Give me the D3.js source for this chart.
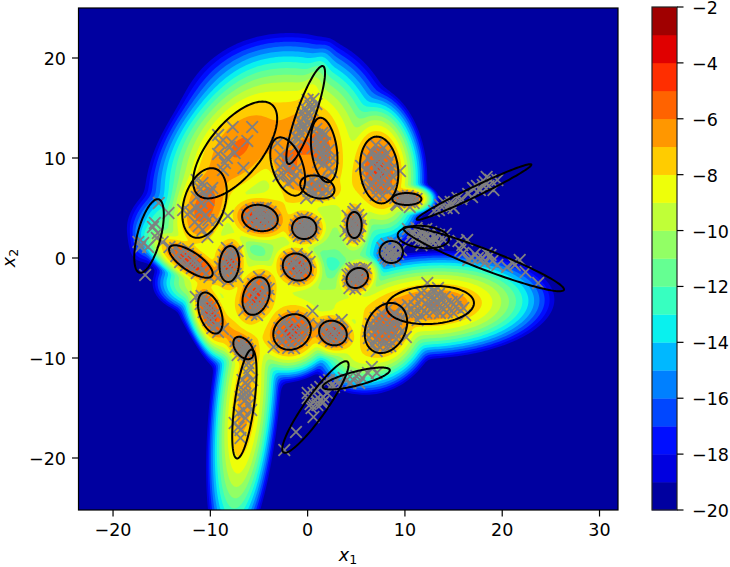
<!DOCTYPE html>
<html><head><meta charset="utf-8">
<script src="https://cdn.jsdelivr.net/npm/d3@7"></script>
<style>html,body{margin:0;padding:0;background:#fff}text{font-family:"DejaVu Sans";fill:#000}</style>
</head><body><svg id="c" width="730" height="567"></svg>
<script>
// Axis domains and ticks
const xDomain=[-23.55,31.9], yDomain=[-25.2,25];
const xTicks=[-20,-10,0,10,20,30], yTicks=[-20,-10,0,10,20];
const levels=d3.range(-20,-1,1), cbarTicks=[-2,-4,-6,-8,-10,-12,-14,-16,-18,-20];
// Density field, read as gaussian bumps: centre, spread, tilt, peak log value
const fieldX=[-7,-10.6,-0.2,-0.2,-2.05,1.7,1,-4.9,-0.35,7.35,10.2,4.8,5.1,12.6,8.05,-6.5,-6.6,-1.6,2.6,-5.3,-10,-8.05,-12,-1.1,-15.5,-8,-2.5,-3,-6.3,-3,-2.5,-7.5,-11,-7,-9.5,-2.5,1.5,2,2.5,1,5,4.5,4.5,-5,5.5,-13.5,15];
const fieldY=[11,5.2,11,15,9.15,10.8,7.1,4,3,8.8,5.9,3.3,-2,-4.7,-7,-14.6,-9,-7.4,-7.5,-3.8,-5.5,-0.6,-0.35,-0.9,3.5,-7.5,13,1.5,-1,-2.5,-5,-4.5,-2.5,3,0.5,5.5,3.5,1.5,-3.3,-4.5,-5,7,0.8,-8,-9.5,3,-4.6];
const fieldA=[2.4,1.7,1.8,1.5,1.4,1.5,0.95,1.02,0.7,1.55,0.6,0.7,0.62,2.5,1.3,3.2,0.7,1.05,0.82,1.05,1.1,0.95,1.3,0.8,1.2,1.5,2.3,1,0.8,1.6,1.6,1,1.1,1.1,0.9,1.9,1.4,1.1,1.6,2.1,1.6,1.1,0.8,1.3,1.1,1.3,2];
const fieldB=[1.45,0.95,2.15,0.5,0.7,0.6,0.6,0.7,0.6,0.92,0.33,0.42,0.52,1.05,1,0.72,0.46,0.9,0.65,0.7,0.5,0.55,0.5,0.68,0.6,0.65,2,1,0.8,1.1,0.9,1.4,0.7,1.1,1.1,1,1.6,0.7,1.1,0.9,0.8,2.1,0.9,1,0.9,1.1,1];
const fieldT=[50,72,0,70,110,98,-15,-10,0,96,0,90,30,3,60,84,-50,30,-20,70,110,85,-33,-30,60,-45,0,0,0,0,0,0,0,0,0,0,0,0,0,0,0,0,0,0,0,0,3];
const fieldP=[-5.9,-5.5,-6,-8,-6.2,-5.9,-5.8,-4.4,-4.4,-4.8,-3.8,-4.4,-4.4,-6,-5.2,-6.6,-4.8,-4.6,-4.6,-4.6,-4.5,-4.6,-4.4,-4.4,-13,-6.8,-8,-10,-9.5,-8.9,-8.6,-8.6,-8.9,-9.5,-8.6,-8.3,-10,-11.5,-10.5,-9.9,-8.5,-8.2,-10.5,-8.6,-8.5,-11.5,-8.4];
// Ellipses: centre, semi axes, tilt
const ellX=[-7.45,-10.6,-0.2,-2.05,1.7,1,-4.9,-0.35,7.35,10.2,17.1,4.8,11.9,18.1,8.6,5.1,12.6,8.05,5,0.8,-6.5,-6.6,-1.6,2.6,-5.3,-10,-8.05,-12,-1.1,-16.3];
const ellY=[10.8,5.5,14.3,9.15,10.8,7.1,4,3,8.8,5.9,6.6,3.3,2.1,-0.1,0.6,-2,-4.7,-7,-12.05,-14.9,-14.6,-9,-7.4,-7.5,-3.8,-5.5,-0.6,-0.35,-0.9,2.2];
const ellA=[5.9,3.6,5.2,3.05,3.25,1.8,1.85,1.25,3.35,1.5,6.5,1.3,2.65,8.8,1.2,1.15,4.5,2.65,3.55,5.6,5.5,1.3,2,1.45,1.95,2.15,1.8,2.6,1.5,3.8];
const ellB=[2.7,2.1,0.95,1.55,1.3,1.1,1.3,1.1,1.95,0.6,0.5,0.75,1.1,1,1.1,0.95,1.9,2,0.7,1.1,1,0.8,1.7,1.2,1.3,1.1,1,0.95,1.3,1.2];
const ellT=[50,72,70,110,98,-15,-10,0,96,0,25,90,-5,-20.5,0,30,3,60,14,54,82,-50,30,-20,70,110,85,-33,-30,75];
// Crosses, by cluster
const pts1=[[-9.2,12.3],[-7.7,13.1],[-5.7,13.1],[-6.2,11.7],[-8,11.1],[-9.2,10.4],[-8.3,10],[-8.7,8.8],[-6.6,9],[-7.8,11.6],[-7.5,10.5],[-9,11.5],[-8.5,9.5]];
const pts2=[[-10.8,7.5],[-11.4,6.1],[-12.1,4.6],[-11,4.8],[-10.2,3.8],[-10.8,2.8],[-10.3,2.1],[-8.2,4.2],[-10.7,6.5],[-11.6,3.6],[-9.8,7],[-11.4,7.8],[-12.8,4.8],[-9.3,3.8],[-10.9,5.5],[-11.5,5],[-10.5,4.3],[-11.2,3.2],[-10.2,5.8],[-10,6.6],[-11,6.9]];
const pts3=[[0.6,15.9],[0,15.8],[0.9,15.4],[0.3,15.2],[-0.3,15],[0.5,14.8],[0,14.5],[-0.5,14.5],[0.3,14.2],[-0.3,14],[-0.7,13.7],[0,13.5],[-0.5,13.2],[-1,13],[-0.3,12.8],[-0.8,12.5],[-1.3,12.2],[-0.9,11.9],[-1.6,11.5],[-1.2,11.1]];
const pts4=[[-2.8,9.1],[-2,8.8],[-1.1,9],[-2.5,8.3],[-1.5,7.8],[-2.1,9.8],[-3.1,11.5],[-2.4,9.4],[-1.7,9.6],[-3,8.2],[-1.2,8.3],[-2.8,10.3],[-2,7.5]];
const pts5=[[1,12.3],[1.4,11.9],[0.8,11.6],[1.3,11.3],[1.8,11.5],[1.1,10.9],[1.6,10.7],[2.2,10.8],[1.3,10.3],[1.9,10],[2.6,10],[1.6,9.4],[2.2,9],[2.5,8.6],[1.1,9.6],[0.9,12.9],[1.5,12.5],[0.5,11],[1.8,12.4]];
const pts6=[[0,7.5],[0.4,6.9],[0.8,7.4],[1.1,6.8],[1.5,7.2],[1.9,6.9],[0.6,6.4],[1.2,7.9],[1.6,6.4],[2.2,6.5],[0.1,6.7],[1,6.1],[-0.15,6],[0.5,7.8],[1.5,7.8]];
const pts7=[[-6.2,4.3],[-5.8,4.8],[-5.7,3.9],[-5.4,4.4],[-5.3,3.4],[-5.1,5],[-5,4],[-4.9,3.2],[-4.8,4.6],[-4.5,3.7],[-4.4,4.3],[-4.3,5],[-4.1,3.3],[-4,4],[-3.8,4.6],[-3.7,3.5],[-5.6,3.2],[-5.2,4.7],[-4.7,3.9],[-6,3.6],[-3.4,3.8],[-5.1,3.6],[-4.6,4.95],[-4.2,3.6]];
const pts8=[[-1.2,3.3],[-1,2.6],[-0.8,3.7],[-0.7,3],[-0.5,2.3],[-0.4,3.4],[-0.3,2.8],[-0.1,3.9],[0,2.4],[0.1,3.2],[0.3,2.7],[0.4,3.6],[0.6,3],[-0.9,2.2],[-1.3,2.8],[-0.5,4],[0.5,2.3],[-0.2,2],[0.8,3.4],[-0.2,3.1],[-0.6,2.7],[0.2,2.9]];
const pts9=[[7,11.3],[7.8,11],[6.6,10.6],[7.3,10.5],[8.1,10.4],[6.2,10],[7,9.9],[7.6,9.8],[8.4,9.7],[6.6,9.4],[7.2,9.2],[7.9,9.1],[8.7,9],[6,8.9],[6.6,8.6],[7.3,8.5],[8,8.4],[8.7,8.2],[9.5,8.7],[6.1,8],[6.9,7.9],[7.6,7.8],[8.3,7.6],[5.5,9.2],[6.5,7.3],[7.2,7],[8,6.9],[8.7,7],[7,6.3],[7.7,6.2],[7.4,10],[7,9],[7.7,8.9],[7.2,8],[6.3,7],[8.2,9.3]];
const pts10=[[9,6],[9.4,5.6],[9.7,6.2],[10,5.8],[10.3,6.2],[10.5,5.6],[10.8,6],[11.2,5.9],[9.2,5.3],[10.5,5.1],[9.6,5.9],[10.9,5.5],[9.1,5.4],[10.4,5.9]];
const pts11=[[13.6,5.3],[14.3,5],[15.4,6],[15,5],[17,7],[17.7,6.8],[18.8,7.8],[19.5,7.8],[18.4,8.1],[19.1,6.8],[13,4.7],[14,5.6],[14.7,5.6],[15.8,5.9],[16.5,6.4],[17.4,7.2],[18,7.3],[18.6,7.2],[16.9,6.1],[14.8,5.2],[18.2,7.6],[13.5,4.8]];
const pts12=[[4.1,4.2],[4.7,4.6],[5.2,4.3],[4.4,3.8],[5,3.8],[4.2,3.2],[4.8,3.3],[5.4,3.2],[4.5,2.8],[5.1,2.7],[4.2,2.3],[4.8,2.2],[5.3,2.2],[4.6,1.9],[4.9,4.9],[3.9,2.7],[5.5,3.9],[4.5,3.5],[5,3]];
const pts13=[[10.3,2.9],[10.8,2.6],[11.2,3],[11.5,2.4],[11.9,2.8],[12.3,2.2],[12.7,2.6],[13.1,2],[13.5,2.3],[10.9,2],[11.4,1.7],[11.9,1.9],[12.4,1.5],[12.9,1.5],[13.4,1.5],[14,1.8],[12,2.3],[11.3,2.2],[12.6,1.9],[11.7,1.3],[10.6,2.2],[12.2,2.9],[14.2,2.4]];
const pts14=[[15.9,1.3],[16,0.5],[16.9,0],[15.7,0.8],[18,0],[18.8,0.3],[19.5,-0.7],[21.1,-0.5],[22.4,-1.4],[23.7,-2.5],[18.4,0.5],[17.5,0],[20.5,-0.9],[16.4,1.8],[21.3,-0.7],[18.2,-0.5],[17.2,0.4],[19,-0.3],[16.5,-0.2],[21.8,-0.2],[15.5,1.7]];
const pts15=[[7.7,1],[7.8,0.3],[8.1,1.4],[8.2,0.6],[8.3,-0.1],[8.5,1],[8.6,0.3],[8.8,1.5],[8.9,0.7],[9,-0.1],[9.2,1.1],[9.3,0.4],[9.6,0.8],[8.4,-0.3],[8,0],[9.1,1.5],[8.6,0.6],[7.9,0.7],[8.7,0]];
const pts16=[[4.2,-2.3],[4.4,-1.6],[4.6,-2.7],[4.7,-2],[4.9,-1.3],[5,-2.4],[5.2,-1.8],[5.4,-2.7],[5.5,-1.2],[5.6,-2.1],[5.9,-1.6],[4.3,-3],[4.9,-3.1],[6,-1],[4.8,-1],[5.3,-1.1],[5.1,-2],[4.5,-1.1],[4.1,-1.7]];
const pts17=[[12.3,-2.5],[11.7,-3.5],[12.3,-3.6],[12.9,-3.3],[13.5,-3.6],[11,-4],[11.7,-4.2],[12.4,-4.2],[13,-4],[13.6,-4.1],[14.1,-3.9],[10.3,-4.7],[11,-4.8],[11.7,-5],[12.4,-4.8],[13,-4.7],[13.6,-4.8],[14.2,-4.6],[9.5,-4.9],[10.2,-5.4],[10.9,-5.5],[11.6,-5.7],[12.2,-5.5],[12.9,-5.4],[13.6,-5.5],[14.3,-5.4],[15.4,-4.2],[16,-5],[15,-5.5],[16.2,-5.7],[15.2,-4.9],[14.8,-4.4],[9,-5.6],[13.2,-4.4],[12.8,-5],[13.4,-3],[11.3,-6.2]];
const pts18=[[8.3,-5],[7.6,-5.5],[8.9,-5.6],[7,-6],[7.7,-6.1],[8.4,-6.2],[9.1,-6.1],[9.8,-6],[6.5,-6.6],[7.2,-6.7],[7.9,-6.8],[8.6,-6.9],[9.3,-6.8],[6.2,-7.3],[6.9,-7.4],[7.6,-7.4],[8.3,-7.5],[9,-7.5],[9.7,-7.3],[6.3,-8],[7,-8.1],[7.7,-8.2],[8.4,-8.2],[9.1,-8.1],[6.7,-8.7],[7.4,-8.9],[8.1,-8.9],[7.1,-9.3],[10.1,-7.9],[8.5,-8.8],[6.6,-7],[8,-7.2]];
const pts19=[[6.6,-10.9],[7.1,-11.5],[4.7,-12.2],[5.6,-12],[3.3,-12.7],[2.5,-12.7],[1.8,-12.4],[4,-12.2],[6.2,-11.5],[3,-12.2],[2.2,-12.2],[3.7,-12],[5,-11.8],[5.3,-12.5],[4.4,-12.5],[2.7,-12.9]];
const pts20=[[-2.4,-19.2],[-1.2,-17.4],[0.6,-15.9],[0.4,-15],[0,-14],[0.8,-14.2],[1.6,-13.9],[1.5,-14.5],[2,-13.5],[0.6,-13.5],[0,-13.5],[1,-14.7],[1.6,-14.4],[0.9,-13.2],[1.3,-12.9],[0.3,-14.6]];
const pts21=[[-6.1,-10.5],[-6.2,-11.5],[-6.4,-12.5],[-6.6,-13.2],[-5.9,-13.5],[-6.4,-14.2],[-6.6,-15.2],[-7.5,-16.5],[-6.9,-17.2],[-6.9,-18],[-5.7,-12.2],[-7.1,-15.5],[-6.1,-14.7],[-6.7,-12.2],[-6.9,-13.9],[-6.4,-16],[-7.1,-16.9],[-6,-11],[-6.5,-13.7],[-5.8,-15.2]];
const pts22=[[-7.4,-8.3],[-7,-8.6],[-6.6,-8.5],[-6.9,-9.1],[-6.5,-9.2],[-6.2,-9.1],[-6.1,-9.7],[-6.6,-9.7],[-7.4,-8.9],[-5.9,-9.3],[-7.2,-9.7],[-6.3,-8.7]];
const pts23=[[-3.5,-8.9],[-2.4,-6.2],[-1.5,-5.8],[-0.6,-6],[-2.9,-7],[-2.1,-6.9],[-1.3,-6.7],[-0.5,-6.8],[0.1,-6.6],[-3,-7.8],[-2.3,-7.7],[-1.6,-7.5],[-0.9,-7.5],[-0.2,-7.4],[-2.6,-8.4],[-1.9,-8.4],[-1.2,-8.3],[-0.6,-8.2],[-2,-9],[-1.4,-9],[-1.8,-7.1],[0.5,-5.3]];
const pts24=[[1.5,-7.3],[1.9,-6.7],[2.1,-7.6],[2.4,-7],[2.7,-6.4],[2.8,-7.7],[3.1,-7.1],[3.4,-7.9],[3.6,-7.4],[2.4,-8.3],[3,-8.4],[1.1,-6.7],[3.5,-6.2],[4,-7.8],[1.7,-8],[2.6,-7.5]];
const pts25=[[-5,-1.9],[-4.4,-2.3],[-5.6,-2.6],[-5,-2.9],[-4.3,-3],[-6,-3.3],[-5.4,-3.6],[-4.7,-3.7],[-4.1,-3.8],[-5.9,-4.2],[-5.2,-4.4],[-4.6,-4.4],[-6.2,-4.9],[-5.6,-5],[-5,-5.1],[-5.8,-5.6],[-5.2,-5.7],[-4,-3.1],[-6.5,-5.2]];
const pts26=[[-11.5,-3.9],[-10.9,-3.8],[-10.4,-4.2],[-11,-4.6],[-10.4,-4.9],[-9.8,-4.8],[-10.7,-5.4],[-10.1,-5.5],[-9.5,-5.5],[-10.2,-6.2],[-9.7,-6.2],[-9.3,-6.7],[-9.8,-7],[-9.2,-7.4],[-10.9,-4.2],[-8.7,-7.1]];
const pts27=[[-8.3,1],[-8.6,0.3],[-8,0.5],[-7.5,0.6],[-8.7,-0.4],[-8.1,-0.2],[-7.6,-0.1],[-8.6,-1.1],[-8,-1],[-7.5,-0.9],[-8.5,-1.7],[-7.9,-1.8],[-7.4,-1.6],[-9.2,-2],[-8.2,-2.3],[-7.2,-1.9],[-9,-0.9],[-7.2,0.7]];
const pts28=[[-14.2,1.1],[-13.6,1],[-13,0.6],[-13.5,0.2],[-12.8,-0.1],[-12.3,0.4],[-12,-0.3],[-11.5,-0.2],[-12.5,-0.7],[-11.9,-1],[-11.2,-0.7],[-10.8,-1.2],[-11.4,-1.5],[-10.5,-1.6],[-10.1,-1.9],[-12.3,0.9],[-13.1,-0.4]];
const pts30=[[-2.2,-0.6],[-1.9,0.1],[-1.8,-1.1],[-1.4,-0.3],[-1.3,-1.5],[-1.1,0.4],[-1,-0.9],[-0.7,-0.1],[-0.7,-1.7],[-0.5,-1.1],[-0.2,-0.6],[0,-1.2],[-1.4,-2.1],[-0.9,-2],[-0.1,0.1],[-2.2,-1.3],[-1.5,-0.7],[0.2,-0.4]];
const pts32=[[-15.3,5.5],[-14.3,4.5],[-15.7,3.5],[-15.4,2.5],[-16.9,1.5],[-17.2,1.1],[-14.9,1.6],[-16.7,-1.7],[-15.9,3.1],[-15.5,2],[-17.4,1.6],[-16.4,1.1]];
const clusters=[pts1,pts2,pts3,pts4,pts5,pts6,pts7,pts8,pts9,pts10,pts11,pts12,pts13,pts14,pts15,pts16,pts17,pts18,pts19,pts20,pts21,pts22,pts23,pts24,pts25,pts26,pts27,pts28,pts30,pts32];

const jet=t=>{const seg=(s)=>d3.scaleLinear().domain(s.map(d=>d[0])).range(s.map(d=>d[1]))(t);
  return d3.rgb(255*seg([[0,0],[.35,0],[.66,1],[.89,1],[1,.5]]),255*seg([[0,0],[.125,0],[.375,1],[.64,1],[.91,0],[1,0]]),255*seg([[0,.5],[.11,1],[.34,1],[.65,0],[1,0]])).formatHex();};
const bandColor=l=>jet((l+0.5-(-20))/18);

const L=78.5,R=618,T=8,B=510;
const svg=d3.select('#c');
const x=d3.scaleLinear().domain(xDomain).range([L,R]);
const y=d3.scaleLinear().domain(yDomain).range([B,T]);
svg.append('clipPath').attr('id','pl').append('rect').attr('x',L).attr('y',T).attr('width',R-L).attr('height',B-T);
const plot=svg.append('g').attr('clip-path','url(#pl)');
plot.append('rect').attr('x',L).attr('y',T).attr('width',R-L).attr('height',B-T).attr('fill',bandColor(-20));

// field
const nx=220,ny=200,vals=new Float64Array(nx*ny);
const gx=d3.scaleLinear().domain([0,nx]).range(xDomain), gy=d3.scaleLinear().domain([0,ny]).range(yDomain);
const blobs=fieldX.map((_,i)=>{const t=fieldT[i]*Math.PI/180;return {x:fieldX[i],y:fieldY[i],a:fieldA[i],b:fieldB[i],c:Math.cos(t),s:Math.sin(t),p:fieldP[i]};});
for(let j=0;j<ny;j++)for(let i=0;i<nx;i++){
  const px=gx(i+.5),py=gy(j+.5);let sum=0;
  for(const b of blobs){const dx=px-b.x,dy=py-b.y,u=(dx*b.c+dy*b.s)/b.a,v=(-dx*b.s+dy*b.c)/b.b;sum+=Math.exp(b.p-.5*(u*u+v*v));}
  vals[i+j*nx]=Math.log(sum+1e-30);
}
const proj=d3.geoTransform({point(a,b){this.stream.point(x(gx(a)),y(gy(b)));}});
const gp=d3.geoPath(proj);
const cont=d3.contours().size([nx,ny]).thresholds(levels.slice(1,-1)).smooth(true)(Array.from(vals));
plot.selectAll('path.f').data(cont).join('path').attr('class','f').attr('d',gp).attr('fill',d=>bandColor(d.value));

// crosses
const h=5.8;
plot.append('g').attr('stroke','#808080').attr('stroke-width',1.8).attr('fill','none')
 .selectAll('path').data(clusters.flat()).join('path')
 .attr('d',d=>{const a=x(d[0]),b=y(d[1]);return `M${a-h},${b-h}L${a+h},${b+h}M${a-h},${b+h}L${a+h},${b-h}`;});
// ellipses
const line=d3.line().x(d=>x(d[0])).y(d=>y(d[1])).curve(d3.curveLinearClosed);
plot.append('g').selectAll('path').data(ellX.map((_,i)=>i)).join('path').attr('fill','none').attr('stroke','#000').attr('stroke-width',2)
 .attr('d',i=>{const t=ellT[i]*Math.PI/180,c=Math.cos(t),s=Math.sin(t);
   return line(d3.range(0,360,3).map(g=>{const q=g*Math.PI/180,u=ellA[i]*Math.cos(q),v=ellB[i]*Math.sin(q);return [ellX[i]+u*c-v*s,ellY[i]+u*s+v*c];}));});

// axes
const fs='17.5px', lw=1.2, tl=6.5;
const ax=svg.append('g');
ax.append('rect').attr('x',L).attr('y',T).attr('width',R-L).attr('height',B-T).attr('fill','none').attr('stroke','#000').attr('stroke-width',lw);
const fmt=v=>(v<0?'\u2212':'')+Math.abs(v);
xTicks.forEach(v=>{ax.append('line').attr('x1',x(v)).attr('x2',x(v)).attr('y1',B).attr('y2',B+tl).attr('stroke','#000').attr('stroke-width',lw);
  ax.append('text').attr('x',x(v)).attr('y',536).attr('text-anchor','middle').style('font-size',fs).text(fmt(v));});
yTicks.forEach(v=>{ax.append('line').attr('x1',L-tl).attr('x2',L).attr('y1',y(v)).attr('y2',y(v)).attr('stroke','#000').attr('stroke-width',lw);
  ax.append('text').attr('x',66).attr('y',y(v)+6.5).attr('text-anchor','end').style('font-size',fs).text(fmt(v));});
const lab=(g,sub)=>{g.style('font-size',fs);g.append('tspan').style('font-style','italic').text('x');g.append('tspan').attr('dy',3).style('font-size','12.5px').text(sub);};
lab(ax.append('text').attr('x',348).attr('y',561).attr('text-anchor','middle'),'1');
lab(ax.append('text').attr('transform','translate(15,258) rotate(-90)').attr('text-anchor','middle'),'2');

// colorbar
const cx0=652,cx1=677;
const cy=d3.scaleLinear().domain([-20,-2]).range([510,7]);
svg.append('g').selectAll('rect').data(levels.slice(0,-1)).join('rect').attr('x',cx0).attr('width',cx1-cx0)
 .attr('y',d=>cy(d+1)).attr('height',d=>cy(d)-cy(d+1)+.3).attr('fill',bandColor);
svg.append('rect').attr('x',cx0).attr('y',7).attr('width',cx1-cx0).attr('height',503).attr('fill','none').attr('stroke','#222').attr('stroke-width',lw);
cbarTicks.forEach(v=>{svg.append('line').attr('x1',cx1).attr('x2',cx1+6.5).attr('y1',cy(v)).attr('y2',cy(v)).attr('stroke','#000').attr('stroke-width',lw);
  svg.append('text').attr('x',692).attr('y',cy(v)+7).style('font-size',fs).text(fmt(v));});
</script></body></html>
